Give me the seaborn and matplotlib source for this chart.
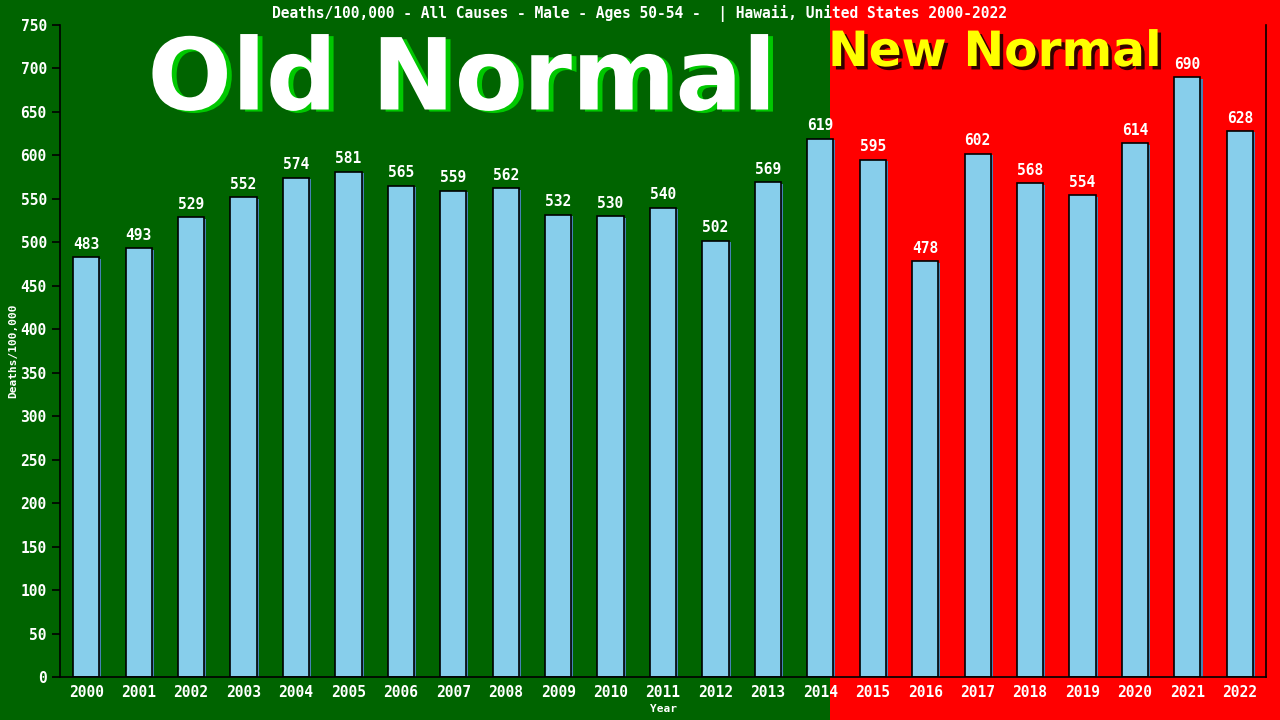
import matplotlib
matplotlib.use("Agg")
import matplotlib.pyplot as plt
import matplotlib.patheffects as pe
from matplotlib.patches import Rectangle
import seaborn as sns
import pandas as pd

years = [str(y) for y in range(2000, 2023)]
deaths = [483, 493, 529, 552, 574, 581, 565, 559, 562, 532, 530, 540, 502,
          569, 619, 595, 478, 602, 568, 554, 614, 690, 628]
y_ticks = list(range(0, 751, 50))

title = "Deaths/100,000 - All Causes - Male - Ages 50-54 -  | Hawaii, United States 2000-2022"

sns.set_theme(style="white")
plt.rcParams["font.family"] = ["DejaVu Sans Mono", "DejaVu Sans"]

df = pd.DataFrame({"Year": years, "Deaths": deaths})

fig = plt.figure(figsize=(12.8, 7.2), dpi=100)
# split background: green for the old period, red for the new one
split = 830 / 1280
fig.patches.append(Rectangle((0, 0), split, 1, transform=fig.transFigure,
                             facecolor="#006400", edgecolor="none", zorder=-10))
fig.patches.append(Rectangle((split, 0), 1 - split, 1, transform=fig.transFigure,
                             facecolor="#ff0000", edgecolor="none", zorder=-10))

ax = fig.add_axes([60 / 1280, 43 / 720, 1206 / 1280, 652 / 720])
ax.patch.set_alpha(0)

sns.barplot(data=df, x="Year", y="Deaths", ax=ax, color="#87ceeb",
            edgecolor="black", linewidth=1.2, width=0.5, saturation=1)
for bar in ax.patches:
    bar.set_path_effects([pe.SimplePatchShadow(offset=(1.5, -1), shadow_rgbFace="#4682b4",
                                               alpha=1.0), pe.Normal()])

for i, v in enumerate(deaths):
    ax.annotate(f"{v}", (i, v), xytext=(0, 4), textcoords="offset points",
                ha="center", va="bottom", color="white", fontsize=10.5,
                fontweight="bold")

ax.set_xlim(-0.5, len(years) - 0.5)
ax.set_ylim(0, 750)
ax.set_yticks(y_ticks)
ax.set_yticklabels([str(t) for t in y_ticks])
ax.tick_params(axis="y", direction="out", length=6, width=1.2, color="black",
               labelcolor="white", labelsize=10.5, left=True)
ax.tick_params(axis="x", length=0, labelcolor="white", labelsize=10.5, pad=6)
for lab in ax.get_xticklabels() + ax.get_yticklabels():
    lab.set_fontweight("bold")

for side in ["left", "bottom", "right"]:
    ax.spines[side].set_visible(True)
    ax.spines[side].set_color("black")
    ax.spines[side].set_linewidth(1.2)
ax.spines["top"].set_visible(False)

ax.set_xlabel("Year", color="white", fontsize=8, fontweight="bold", labelpad=3)
ax.set_ylabel("Deaths/100,000", color="white", fontsize=8, fontweight="bold", labelpad=2)

fig.text(0.5, 1 - 13 / 720, title, ha="center", va="center", color="white",
         fontsize=10.5, fontweight="bold")

fig.text(462 / 1280, 1 - 82 / 720, "Old Normal", ha="center", va="center",
         color="white", fontsize=71.5, fontweight="bold", family="DejaVu Sans",
         path_effects=[pe.withSimplePatchShadow(offset=(3.5, -1.5), shadow_rgbFace="#00c800",
                                                alpha=1.0)])
fig.text(995 / 1280, 1 - 52 / 720, "New Normal", ha="center", va="center",
         color="#ffff00", fontsize=35, fontweight="bold", family="DejaVu Sans",
         path_effects=[pe.withSimplePatchShadow(offset=(2.5, -2.5), shadow_rgbFace="#000000",
                                                alpha=0.8)])

fig.savefig("out.png", dpi=100)
